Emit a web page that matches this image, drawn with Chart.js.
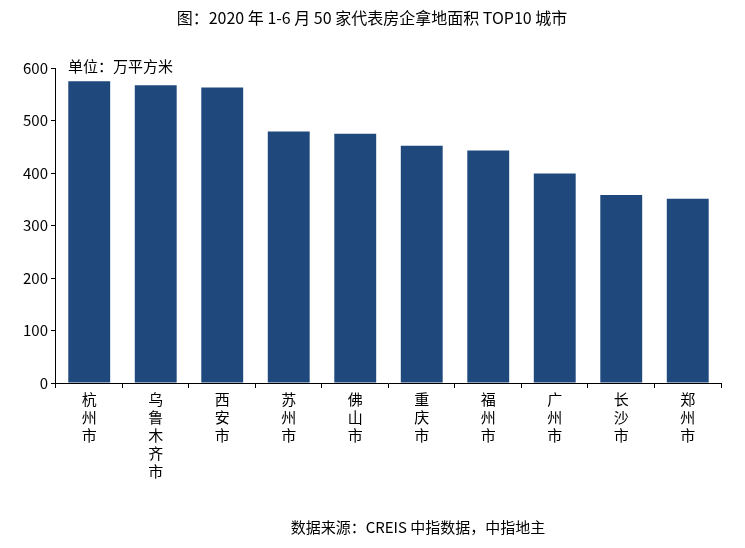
<!DOCTYPE html>
<html><head><meta charset="utf-8">
<script src="https://cdn.jsdelivr.net/npm/chart.js@4"></script>
<style>body{margin:0;background:#fff}#w{width:745px;height:548px;position:relative}</style>
</head><body><div id="w"><canvas id="c"></canvas></div>
<script>
const categories = ["杭州市","乌鲁木齐市","西安市","苏州市","佛山市","重庆市","福州市","广州市","长沙市","郑州市"];
const values = [575, 567, 563, 479, 475, 452, 443, 399, 358, 351];
const yTicks = [0,100,200,300,400,500,600];
const FONT = "'Noto Sans CJK SC', sans-serif";
const overlay = {
  id:'overlay',
  afterDraw(ch){
    const c=ch.ctx; c.save(); c.fillStyle='#000';
    c.font="16px "+FONT; c.textAlign='center'; c.textBaseline='middle';
    c.fillText("图：2020 年 1-6 月 50 家代表房企拿地面积 TOP10 城市", 372, 18);
    c.font="15px "+FONT; c.textAlign='left';
    c.fillText("单位：万平方米", 68, 66);
    c.textAlign='center';
    c.fillText("数据来源：CREIS 中指数据，中指地主", 418, 527);
    c.restore();
  }
};
new Chart(document.getElementById('c'),{
  type:'bar',
  data:{labels:categories.map(s=>s.split('')),datasets:[{data:values,backgroundColor:'#1f497d',barPercentage:0.63,categoryPercentage:1}]},
  options:{responsive:true,maintainAspectRatio:false,animation:false,
    layout:{padding:{top:68,right:24,bottom:66,left:20}},
    plugins:{legend:{display:false},tooltip:{enabled:false}},
    scales:{
      x:{grid:{display:true,drawOnChartArea:false,offset:true,color:'#000',tickLength:5},border:{color:'#000'},
         ticks:{color:'#000',font:{family:FONT,size:15},maxRotation:0,autoSkip:false,padding:2}},
      y:{min:0,max:600,afterBuildTicks(ax){ax.ticks=yTicks.map(v=>({value:v}));},
         grid:{display:true,drawOnChartArea:false,color:'#000',tickLength:5},border:{color:'#000'},
         ticks:{color:'#000',font:{family:FONT,size:15}}}
    }},
  plugins:[overlay]
});
</script></body></html>
